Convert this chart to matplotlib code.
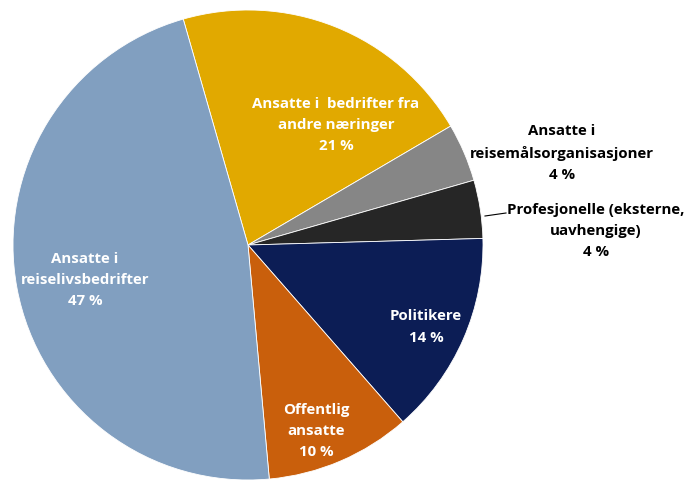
import matplotlib.pyplot as plt

# Fordeling av respondenter (andel i prosent)
kategorier = [
    "Ansatte i  bedrifter fra\nandre næringer",
    "Ansatte i\nreisemålsorganisasjoner",
    "Profesjonelle (eksterne,\nuavhengige)",
    "Politikere",
    "Offentlig\nansatte",
    "Ansatte i\nreiselivsbedrifter",
]
andeler = [21, 4, 4, 14, 10, 47]
farger = ["#E1A900", "#868686", "#262626", "#0C1D55", "#C95F0C", "#819FC0"]

# etikettplassering (piksler fra øvre venstre hjørne) og tekstfarge
etikett_pos = [(336, 125), (562, 153), (596, 231), (426, 327), (316, 431), (85, 280)]
etikett_farge = ["white", "black", "black", "white", "white", "white"]

B, H = 688, 481
fig = plt.figure(figsize=(B / 100, H / 100), dpi=100)
ax = fig.add_axes([0, 0, 1, 1])

ax.pie(andeler, colors=farger, startangle=106, counterclock=False,
       center=(248, H - 246), radius=235,
       wedgeprops=dict(edgecolor="white", linewidth=0.6))

ax.set_xlim(0, B)
ax.set_ylim(0, H)
ax.set_aspect("equal")
ax.axis("off")

for tekst, verdi, (x, y), farge in zip(kategorier, andeler, etikett_pos, etikett_farge):
    ax.text(x, H - y, f"{tekst}\n{verdi} %", ha="center", va="center",
            color=farge, fontsize=10.8, fontweight="bold", family="Open Sans",
            linespacing=1.68)

# linje fra den mørke sektoren ut til etiketten
ax.plot([485, 506], [H - 217, H - 214], color="black", lw=0.8)

fig.savefig("out.png", dpi=100)
